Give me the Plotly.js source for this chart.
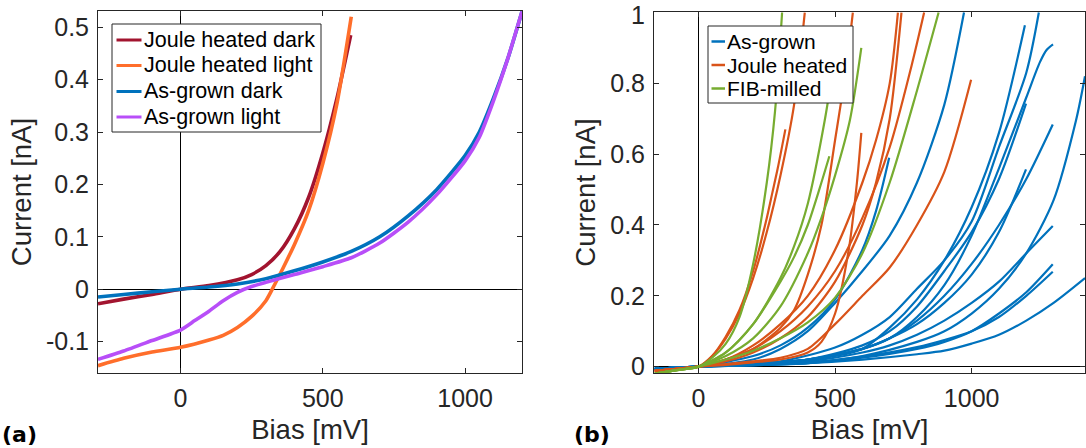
<!DOCTYPE html>
<html>
<head>
<meta charset="utf-8">
<script src="https://cdn.plot.ly/plotly-3.0.1.min.js"></script>
<style>html,body{margin:0;padding:0;background:#fff;}#chart{width:1086px;height:448px;}</style>
</head>
<body>
<div id="chart"></div>
<script>
// ---------- Panel (a) ----------
const biasJD = [-290,-200,-100,0,100,200,250,300,350,400,450,500,550,598];
const curJD  = [-0.028,-0.019,-0.010,0.000,0.007,0.018,0.028,0.045,0.072,0.115,0.175,0.260,0.365,0.485];

const biasJL = [-290,-200,-100,0,100,150,200,250,300,330,360,400,450,500,550,600];
const curJL  = [-0.146,-0.132,-0.120,-0.111,-0.097,-0.088,-0.073,-0.052,-0.022,0.008,0.040,0.085,0.150,0.240,0.355,0.520];

const biasAD = [-290,-200,-100,0,100,200,300,400,500,600,700,800,900,1000,1050,1100,1150,1200];
const curAD  = [-0.015,-0.010,-0.005,0.000,0.004,0.010,0.020,0.035,0.052,0.072,0.100,0.140,0.190,0.255,0.300,0.365,0.440,0.530];

const biasAL = [-290,-200,-100,0,50,100,150,200,250,300,400,500,600,700,800,900,1000,1050,1100,1150,1200];
const curAL  = [-0.134,-0.118,-0.098,-0.078,-0.060,-0.042,-0.022,-0.006,0.005,0.013,0.028,0.043,0.060,0.088,0.128,0.180,0.245,0.290,0.360,0.440,0.530];

const namesA = ['Joule heated dark','Joule heated light','As-grown dark','As-grown light'];
const colorsA = ['#A2142F','#FF6E2B','#0072BD','#B84EF8'];

// ---------- Panel (b) ----------
const agBias = [
  [-160,-80,0,200,300,400,500,600,700,800,900,972],
  [-160,-80,0,200,300,400,500,600,650,698],
  [-160,-80,0,300,500,600,700,800,900,1000,1100,1200,1246],
  [-160,-80,0,300,500,600,700,800,900,1000,1100,1195],
  [-160,-80,0,400,600,700,800,900,1000,1100,1200,1250,1275,1298],
  [-160,-80,0,400,600,700,800,900,1000,1100,1199],
  [-160,-80,0,400,600,700,800,900,1000,1100,1200,1297],
  [-160,-80,0,400,600,700,800,900,1000,1100,1199],
  [-160,-80,0,400,600,700,800,900,1000,1100,1200,1297],
  [-160,-80,0,400,600,800,900,1000,1100,1200,1297],
  [-160,-80,0,400,600,800,900,1000,1100,1200,1297],
  [-160,-80,0,400,600,800,900,1000,1100,1200,1300,1382,1415],
  [-160,-80,0,400,600,800,900,1000,1100,1200,1300,1415]
];
const agCurrent = [
  [-0.006,-0.003,0,0.020,0.050,0.100,0.180,0.270,0.370,0.520,0.740,1.000],
  [-0.006,-0.003,0,0.030,0.060,0.110,0.190,0.330,0.440,0.590],
  [-0.006,-0.003,0,0.015,0.054,0.090,0.140,0.220,0.300,0.410,0.620,0.830,1.000],
  [-0.006,-0.003,0,0.010,0.030,0.050,0.110,0.190,0.300,0.450,0.660,0.964],
  [-0.006,-0.003,0,0.020,0.050,0.080,0.140,0.230,0.370,0.560,0.760,0.860,0.895,0.910],
  [-0.006,-0.003,0,0.020,0.060,0.100,0.170,0.270,0.380,0.530,0.743],
  [-0.006,-0.003,0,0.020,0.050,0.080,0.130,0.200,0.290,0.400,0.530,0.684],
  [-0.006,-0.003,0,0.020,0.050,0.080,0.120,0.180,0.260,0.380,0.557],
  [-0.006,-0.003,0,0.015,0.040,0.060,0.090,0.130,0.180,0.240,0.320,0.397],
  [-0.006,-0.003,0,0.010,0.025,0.050,0.070,0.100,0.150,0.210,0.289],
  [-0.006,-0.003,0,0.012,0.028,0.055,0.075,0.100,0.140,0.200,0.268],
  [-0.006,-0.003,0,0.010,0.030,0.070,0.100,0.150,0.220,0.320,0.470,0.695,0.820],
  [-0.006,-0.003,0,0.010,0.020,0.035,0.045,0.065,0.090,0.130,0.180,0.250]
];

const jhBias = [
  [-160,-80,0,50,100,150,200,250,300,350,389],
  [-160,-80,0,50,100,150,200,250,270,290,318],
  [-160,-80,0,100,200,300,350,400,450,500,540,565],
  [-160,-80,0,100,200,300,400,500,600,650,700,743],
  [-160,-80,0,100,200,300,400,500,600,650,700,730],
  [-160,-80,0,100,200,300,400,450,500,550,580,596],
  [-160,-80,0,100,200,300,400,500,600,700,780,826],
  [-160,-80,0,200,300,400,500,600,700,800,900,998]
];
const jhCurrent = [
  [-0.012,-0.006,0,0.030,0.080,0.150,0.250,0.380,0.540,0.740,1.000],
  [-0.012,-0.006,0,0.030,0.085,0.160,0.270,0.420,0.490,0.560,0.670],
  [-0.012,-0.006,0,0.020,0.050,0.110,0.160,0.260,0.400,0.640,0.840,1.000],
  [-0.012,-0.006,0,0.015,0.040,0.080,0.140,0.240,0.400,0.520,0.700,1.000],
  [-0.012,-0.006,0,0.020,0.060,0.120,0.200,0.330,0.520,0.640,0.800,1.000],
  [-0.012,-0.006,0,0.005,0.012,0.020,0.040,0.070,0.150,0.330,0.520,0.660],
  [-0.012,-0.006,0,0.020,0.050,0.100,0.170,0.270,0.420,0.620,0.850,1.000],
  [-0.012,-0.006,0,0.015,0.025,0.050,0.120,0.200,0.280,0.400,0.550,0.810]
];

const fibBias = [
  [-160,-80,0,50,100,150,200,250,280,306],
  [-160,-80,0,100,200,300,400,500,600,700,800,879],
  [-160,-80,0,100,200,300,400,450,500,554,596],
  [-160,-80,0,100,200,300,350,400,450,479],
  [-160,-80,0,100,200,300,350,400,462,500]
];
const fibCurrent = [
  [-0.020,-0.010,0,0.025,0.065,0.140,0.290,0.520,0.720,1.000],
  [-0.020,-0.010,0,0.020,0.045,0.080,0.125,0.195,0.320,0.520,0.780,1.000],
  [-0.020,-0.010,0,0.030,0.080,0.170,0.320,0.420,0.540,0.695,0.900],
  [-0.020,-0.010,0,0.040,0.120,0.240,0.310,0.400,0.520,0.594],
  [-0.020,-0.010,0,0.040,0.120,0.250,0.340,0.460,0.695,0.880]
];

const groupNames = ['As-grown','Joule heated','FIB-milled'];
const groupColors = ['#0072BD','#D95319','#77AC30'];

const xTicks = [0,500,1000];
const yTicksA = [-0.1,0,0.1,0.2,0.3,0.4,0.5];
const yTickTextA = ['-0.1','0','0.1','0.2','0.3','0.4','0.5'];
const yTicksB = [0,0.2,0.4,0.6,0.8,1];
const yTickTextB = ['0','0.2','0.4','0.6','0.8',''];   // the top label "1" is placed below as text so it stays inside the page
const topLabelB = '1';

// ---------- traces ----------
const traces = [];
const seriesA = [[biasJD,curJD],[biasJL,curJL],[biasAD,curAD],[biasAL,curAL]];
seriesA.forEach((s,i)=>{
  traces.push({x:s[0], y:s[1], type:'scatter', mode:'lines', name:namesA[i], showlegend:false,
    line:{color:colorsA[i], width:3.6, shape:'spline', smoothing:0.6}, xaxis:'x', yaxis:'y'});
});
const groupsB = [[agBias,agCurrent],[jhBias,jhCurrent],[fibBias,fibCurrent]];
groupsB.forEach((g,gi)=>{
  g[0].forEach((bx,k)=>{
    traces.push({x:bx, y:g[1][k], type:'scatter', mode:'lines', name:groupNames[gi], showlegend:false,
      line:{color:groupColors[gi], width:2.2, shape:'spline', smoothing:0.8}, xaxis:'x2', yaxis:'y2'});
  });
});

// ---------- legends (boxes, line samples and text at pixel positions) ----------
const W = 1086, H = 448;
const px = v => v / W;
const py = v => (H - v) / H;
const font = 'Liberation Sans, Arial, Helvetica, sans-serif';
const shapes = [];
const annotations = [];
function legendBox(x0, y0, x1, y1, names, colors, rows, lx0, lx1, tx, lw, fsize) {
  shapes.push({type:'rect', xref:'paper', yref:'paper', x0:px(x0), x1:px(x1), y0:py(y0), y1:py(y1),
    line:{color:'#262626', width:1}, fillcolor:'#fff', layer:'above'});
  names.forEach((n,i)=>{
    shapes.push({type:'line', xref:'paper', yref:'paper', x0:px(lx0), x1:px(lx1), y0:py(rows[i]), y1:py(rows[i]),
      line:{color:colors[i], width:lw}, layer:'above'});
    annotations.push({text:n, xref:'paper', yref:'paper', x:px(tx), y:py(rows[i]), xanchor:'left', yanchor:'middle',
      showarrow:false, borderpad:0, font:{family:font, size:fsize, color:'#000'}});
  });
}
legendBox(112, 24, 321, 132, namesA, colorsA, [40, 65.5, 91.5, 117], 116.5, 141.5, 143, 3, 21.5);
legendBox(708, 26, 853, 103, groupNames, groupColors, [41.5, 65, 88.5], 711.5, 725, 725.5, 2.5, 21);

annotations.push({text:topLabelB, xref:'paper', yref:'paper', x:px(646), y:1, xanchor:'right', yanchor:'top', showarrow:false,
  borderpad:0, font:{family:font, size:25, color:'#262626'}});
annotations.push({text:'<b>(a)</b>', xref:'paper', yref:'paper', x:0, y:py(434), xanchor:'left', yanchor:'middle', showarrow:false,
  font:{family:'DejaVu Sans, sans-serif', size:22, color:'#000'}});
annotations.push({text:'<b>(b)</b>', xref:'paper', yref:'paper', x:px(572), y:py(434), xanchor:'left', yanchor:'middle', showarrow:false,
  font:{family:'DejaVu Sans, sans-serif', size:22, color:'#000'}});

const axCommon = {
  showgrid:false, zeroline:true, zerolinecolor:'#000', zerolinewidth:1,
  showline:true, linecolor:'#262626', linewidth:1, mirror:'allticks',
  ticks:'inside', ticklen:5, tickcolor:'#262626', tickwidth:1, ticklabelstandoff:3,
  tickfont:{family:font, size:25, color:'#262626'}
};
const titleFont = {family:font, size:27.5, color:'#262626'};
const layout = {
  width:W, height:H,
  margin:{l:0,r:0,t:0,b:0},
  paper_bgcolor:'#fff', plot_bgcolor:'#fff',
  font:{family:font, color:'#262626'},
  showlegend:false,
  xaxis:Object.assign({}, axCommon, {domain:[px(98),px(522)], range:[-290,1200], tickvals:xTicks, anchor:'y',
    title:{text:'Bias [mV]', font:titleFont, standoff:8}}),
  yaxis:Object.assign({}, axCommon, {domain:[py(373),py(11)], range:[-0.16,0.531], tickvals:yTicksA, ticktext:yTickTextA, anchor:'x',
    title:{text:'Current [nA]', font:titleFont, standoff:6}}),
  xaxis2:Object.assign({}, axCommon, {domain:[px(654),px(1085)], range:[-163,1415], tickvals:xTicks, anchor:'y2',
    title:{text:'Bias [mV]', font:titleFont, standoff:8}}),
  yaxis2:Object.assign({}, axCommon, {domain:[py(373),py(12)], range:[-0.018,1.0015], tickvals:yTicksB, ticktext:yTickTextB, anchor:'x2',
    title:{text:'Current [nA]', font:titleFont, standoff:6}}),
  shapes:shapes,
  annotations:annotations
};
Plotly.newPlot('chart', traces, layout, {displayModeBar:false, staticPlot:true});
</script>
</body>
</html>
